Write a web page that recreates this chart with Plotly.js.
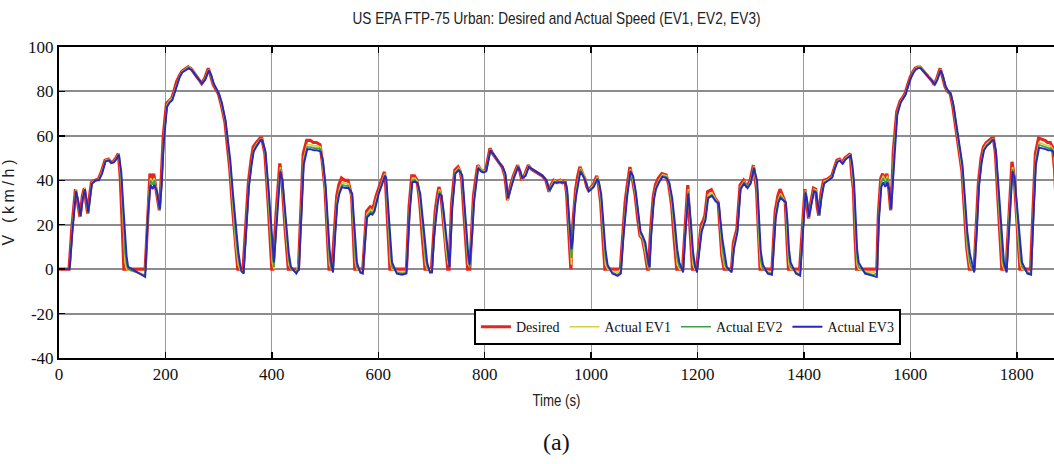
<!DOCTYPE html>
<html>
<head>
<meta charset="utf-8">
<script src="https://cdn.plot.ly/plotly-3.0.1.min.js"></script>
<style>
  html, body { margin: 0; padding: 0; background: #fff; }
  #chart { width: 1054px; height: 464px; }
</style>
</head>
<body>
<div id="chart"></div>
<script>
// FTP-75 drive cycle: reference (desired) speed profile, km/h vs time in s
const tDesired = [
  0, 19, 24, 31, 35, 39.5, 44, 47.6, 51, 54,
  58, 61, 68, 74, 80, 86.5, 93, 98, 102, 107,
  111.5, 115, 118, 122, 162, 167, 171, 175, 178, 183,
  188.6, 192, 196, 202, 207, 212, 216, 221, 226, 230.6,
  236, 243, 249, 254, 259, 264, 268, 274, 280.7, 285,
  290, 299.5, 305, 312, 317, 321, 326, 331, 336, 346,
  351, 356, 361, 365, 371, 378, 381, 387, 393, 400,
  402, 408, 415, 419, 425, 431, 450, 455, 459, 465.5,
  472, 478, 484, 490.6, 495, 500, 504, 507.5, 513, 518,
  522, 526, 531, 537, 543, 550, 553, 556, 571, 575,
  578, 581, 584.6, 588, 592, 596, 600, 606, 611.6, 614,
  618, 622, 653, 658, 663, 668, 673, 678, 683, 688,
  700, 704, 707, 711, 714, 718, 722, 726, 730.6, 733,
  738, 744, 750, 754, 757, 761, 765, 768, 772, 776,
  779, 784, 787, 792, 797, 802, 806, 810, 815, 820,
  826, 833, 838, 843, 848, 854, 862, 866, 870, 876,
  882, 888, 894, 901, 908, 915, 921, 925, 930, 936,
  942, 946, 951, 954, 958, 962, 965, 968, 971, 975,
  979, 984, 988, 992, 995, 1000, 1004, 1010.7, 1014, 1018,
  1022, 1026, 1055, 1060, 1064, 1067, 1073, 1078, 1083, 1088,
  1092, 1096, 1101, 1106, 1108, 1112, 1117, 1121, 1126.5, 1133,
  1141, 1146, 1151.5, 1156, 1161, 1172, 1176, 1181.7, 1186, 1190.6,
  1198, 1203, 1207, 1211, 1214, 1219, 1226, 1233, 1239, 1245.6,
  1250, 1264, 1267.5, 1274, 1280, 1286.6, 1293, 1299, 1305, 1311,
  1315, 1317.7, 1340, 1343, 1346, 1351, 1355, 1360, 1365, 1368,
  1371, 1392, 1397, 1402, 1405, 1408.6, 1413, 1418, 1422, 1425,
  1428, 1432, 1437, 1444, 1452.4, 1457, 1462, 1467, 1472, 1477,
  1482, 1487, 1490, 1493, 1496, 1499, 1537, 1540, 1544.5, 1548,
  1552, 1556, 1560, 1563, 1566, 1568, 1574.5, 1581, 1585, 1590,
  1595, 1600, 1605, 1609, 1614, 1618.4, 1622, 1628, 1634, 1640,
  1645, 1650, 1656, 1660, 1665.4, 1670, 1675, 1680, 1684, 1690,
  1697, 1702, 1706, 1711, 1720, 1724, 1728, 1733, 1737.5, 1743,
  1748, 1753, 1756, 1760, 1765, 1772, 1780, 1785, 1791, 1795,
  1800, 1806, 1826, 1830, 1835, 1841, 1847, 1853, 1858, 1863,
  1867, 1871, 1874
];
const vDesired = [
  0, 0, 18, 36, 30, 23.5, 33, 36.5, 30, 25,
  34, 39, 40, 40.5, 44, 49, 49.5, 48, 48.5, 50,
  52, 42, 25, 0, 0, 28, 43, 40, 43, 35,
  26.5, 40, 60, 74.6, 76, 77, 80, 84.4, 87, 89,
  90, 91, 90, 88, 86.6, 85, 83.6, 86, 90.4, 87,
  83, 79, 74, 66, 56, 45, 28, 12, 0, 0,
  20, 39, 49, 55, 57, 59, 59, 52, 30, 0,
  0, 25, 47.6, 40, 18, 0, 0, 30, 52, 58,
  58, 57, 57, 56, 48, 36, 15, 0, 0, 18,
  33, 38, 41, 40, 40, 33, 18, 0, 0, 18,
  26, 27, 28, 27, 29, 33, 36, 40, 43.8, 38,
  18, 0, 0, 28, 42, 42, 40, 30, 14, 0,
  0, 18, 26, 33, 37, 33, 22, 10, 0, 0,
  30, 44.6, 46, 44, 40, 25, 10, 0, 0, 20,
  33, 42, 46.8, 45, 44, 44.6, 50, 54.4, 52, 50,
  48.3, 46, 42, 31, 37, 42, 46.8, 44, 40, 43,
  46.8, 45, 44, 43, 42, 40, 34.8, 38, 40, 39,
  40, 39, 40, 34, 15, 0, 18, 30, 36, 42,
  46, 43, 41, 37, 35.6, 37, 38, 42, 38, 30,
  14, 0, 0, 18, 30, 36, 46, 40, 33, 22,
  15, 14, 8, 0, 0, 18, 33, 38, 41, 43,
  42.4, 38, 28.5, 14, 0, 0, 18, 37.8, 18, 0,
  0, 12, 20, 22, 24.3, 34.8, 35.7, 32, 30, 6.3,
  0, 0, 12, 18, 37.8, 40, 37, 40, 46.8, 36,
  12, 0, 0, 15, 26, 33, 36, 33, 30, 14,
  0, 0, 20, 36, 30, 22.8, 30, 36.5, 36, 28,
  24, 34, 40, 40.5, 42, 46, 49, 49.5, 48, 50,
  51, 52, 42, 36, 15, 0, 0, 25, 41, 43,
  40, 43, 35, 26.5, 40, 53, 70.9, 75.8, 77, 79,
  83, 86.6, 89, 90.4, 91, 91, 90, 88, 86.6, 85,
  83, 86, 90.4, 87, 82, 80, 79, 73, 66, 57,
  44, 25, 9.7, 0, 0, 20, 39, 50, 55, 57,
  58, 59, 59, 52, 30, 0, 0, 25, 48.3, 42,
  20, 0, 0, 25, 52, 59, 58.5, 58, 57, 57,
  55, 45, 30
];

// Measured speed of the three vehicles, sampled on a common time base
const tActual = [
  0, 20, 25, 32, 36, 40.5, 45, 48.5, 52, 55,
  59, 62, 69, 75, 81, 87.5, 94, 99, 103, 108,
  112.5, 117, 121, 124, 127, 130, 140, 150, 162, 167,
  172, 176, 179, 184, 189.5, 193, 197, 203, 208, 213,
  217, 222, 227, 231.6, 237, 244, 250, 255, 260, 265,
  269, 275, 281.7, 286, 291, 300.5, 306, 313, 318, 322,
  327, 332, 337, 340, 343, 347, 352, 357, 362, 366,
  372, 379, 382, 388, 394, 401, 404, 409, 416, 420,
  426, 432, 436, 446, 451, 456, 460, 466.5, 473, 479,
  485, 491.6, 496, 501, 505, 508.5, 512, 515, 519, 523,
  527, 532, 538, 544, 551, 554, 557, 560, 566, 571,
  576, 579, 582, 585.6, 589, 593, 597, 601, 607, 612.6,
  615, 619, 623, 626, 635, 645, 653, 659, 664, 669,
  674, 679, 684, 689, 692, 697, 701, 705, 708, 712,
  715, 719, 723, 727, 731.6, 734, 739, 745, 751, 755,
  758, 762, 766, 769, 772, 777, 780, 785, 788, 793,
  798, 803, 807, 811, 816, 821, 827, 834, 839, 844,
  849, 855, 863, 867, 871, 877, 883, 889, 895, 902,
  909, 916, 922, 926, 931, 937, 943, 947, 952, 955,
  959, 963, 966, 969, 972, 976, 980, 985, 989, 993,
  996, 1001, 1005, 1011.7, 1015, 1019, 1023, 1027, 1031, 1040,
  1050, 1056, 1061, 1065, 1068, 1074, 1079, 1084, 1089, 1093,
  1097, 1102, 1107, 1110, 1113, 1118, 1122, 1127.5, 1134, 1142,
  1147, 1152.5, 1157, 1162, 1166, 1173, 1177, 1182.7, 1187, 1191.6,
  1195, 1199, 1204, 1208, 1212, 1215, 1220, 1227, 1234, 1240,
  1246.6, 1251, 1255, 1264, 1268.5, 1275, 1281, 1287.6, 1294, 1300,
  1306, 1312, 1316, 1319, 1323, 1332, 1340, 1344, 1347, 1352,
  1356, 1361, 1366, 1369, 1372, 1375, 1385, 1393, 1398, 1403,
  1406, 1409.6, 1414, 1419, 1423, 1426, 1429, 1433, 1438, 1445,
  1453.4, 1458, 1463, 1468, 1473, 1478, 1483, 1488, 1491, 1494,
  1497, 1500, 1503, 1515, 1530, 1537, 1541, 1545.5, 1549, 1553,
  1557, 1561, 1564, 1567, 1569, 1575.5, 1582, 1586, 1591, 1596,
  1601, 1606, 1610, 1615, 1619.4, 1623, 1629, 1635, 1641, 1646,
  1651, 1657, 1661, 1666.4, 1671, 1676, 1681, 1685, 1691, 1698,
  1703, 1707, 1712, 1716, 1720, 1725, 1729, 1734, 1738.5, 1744,
  1749, 1754, 1757, 1761, 1766, 1773, 1776, 1781, 1786, 1792,
  1796, 1801, 1807, 1810, 1820, 1827, 1831, 1836, 1842, 1848,
  1854, 1859, 1864, 1868, 1872, 1874
];
const vEV1 = [
  0, 0, 18, 36, 30, 23.5, 33, 36.5, 30, 25,
  34, 39, 40, 40.5, 44, 49, 49.5, 48, 48.5, 50,
  52, 40, 20, 3, 0, -0.5, -1, -1.5, -2.5, 26,
  41, 39, 41, 34, 26.5, 40, 59, 74, 76, 77,
  80, 84, 87, 89, 90, 91, 90, 88, 86.6, 85,
  83.6, 86, 90, 87, 83, 79, 74, 66, 56, 45,
  28, 12, 2, 0, -0.5, -1, 19, 38, 48, 54,
  56.5, 58.5, 58.5, 52, 30, 3, 0, 24, 46, 39,
  18, 2, 0, -1, 3, 29, 50, 56, 56, 55.5,
  55.5, 55, 47, 34, 14, 2, 0, -0.5, 17, 31,
  36, 39, 38.5, 38.5, 32, 18, 3, 0, -0.5, -1,
  17, 25, 26, 27, 26, 28, 32, 35, 39, 43,
  39, 20, 3, 0, -1, -1.5, -1, 27, 41, 41,
  39.5, 30, 14, 2, 0, -0.5, 0, 17, 25, 32,
  36, 33, 22, 10, 2, 3, 29, 44, 45.5, 44,
  40, 25, 10, 2, 1, 19, 32, 41, 46.5, 45,
  44, 44.5, 49.5, 54, 52, 50, 48.3, 46, 42, 31,
  37, 42, 46.5, 44, 40, 43, 46.5, 45, 44, 43,
  42, 40, 35, 38, 40, 39, 40, 39, 40, 34,
  15, 2, 17, 29, 35, 41, 45.5, 43, 41, 37,
  35.6, 37, 38, 41.5, 38, 30, 14, 2, 0, -1,
  -1.5, 0, 17, 29, 35, 45, 40, 33, 22, 15,
  14, 8, 1, 0, 17, 32, 37, 40, 42.5, 42,
  38, 28.5, 14, 2, 0, -0.5, 17, 36, 19, 2,
  0, -0.5, 11, 19, 21, 24, 33.5, 34.5, 31.5, 29.5,
  7, 1, 0, -0.5, 11, 17.5, 37, 39.5, 37, 39.5,
  46.5, 36, 12, 1, 0, -1, -1.5, 13, 25, 31.5,
  34, 32, 29, 14, 2, 0, -1, -1.5, 19, 35.5,
  30, 23, 30, 36, 35.5, 28, 24, 33, 39.5, 40.3,
  41.8, 45.8, 48.8, 49.3, 48, 49.8, 50.8, 51.8, 43, 36,
  16, 2, 0, -1, -1.5, -1, 24, 40, 42, 39.5,
  42, 35, 26.5, 40, 52, 70.5, 75.5, 77, 79, 83,
  86.5, 89, 90.3, 91, 91, 90, 88, 86.6, 85, 83,
  86, 90, 87, 82, 80, 79, 73, 66, 57, 44,
  25, 9.7, 1, 0, -0.5, 19, 38, 49, 54.5, 56.5,
  57.5, 58.5, 58.5, 52, 30, 2, 0, -0.5, 24, 46,
  41, 20, 2, 0, -1, -1.5, 24, 50, 57, 56.5,
  56, 55.5, 55.5, 54, 46, 35
];
const vEV2 = [
  0, 0, 17, 35.5, 30.5, 23.5, 32.5, 36, 30.5, 25,
  33.5, 38.5, 40, 40.3, 43.5, 48.7, 49.2, 48, 48.3, 49.8,
  51.7, 42, 24, 8, 2, 0, -1, -2, -3, 25,
  40, 38, 40, 35, 26.5, 39, 58, 73.5, 75.5, 76.5,
  79.5, 83.8, 86.7, 88.8, 89.8, 90.8, 89.8, 88, 86.5, 85,
  83.5, 85.7, 89.8, 87, 83, 79, 74.5, 66.5, 57, 47,
  31, 15, 5, 1, -1, -1.5, 18, 37.5, 47.5, 53.5,
  56, 58.2, 58.2, 52.5, 33, 6, 1, 22, 45, 39.5,
  21, 4, 0, -1.5, 2, 28, 49, 55, 55, 54.5,
  54.5, 54, 48, 36, 18, 5, 0, -1, 16, 30,
  35, 38, 37.5, 37.5, 33, 21, 6, 1, -1, -1.5,
  16, 24, 25, 26, 25, 27, 31, 34.5, 38.5, 42.5,
  40, 24, 7, 1, -1.5, -2, -1.5, 26, 40, 40,
  39, 32, 18, 5, 1, -1, -0.5, 16, 24, 31,
  35, 33, 24, 13, 4, 2, 28, 43.5, 45, 44,
  41, 28, 13, 4, 1, 18, 31, 40.5, 46, 44.5,
  43.8, 44.2, 49, 53.8, 52, 50, 48.2, 46, 42.5, 31.5,
  36.5, 41.5, 46.3, 44, 40.5, 42.5, 46.3, 45, 44, 43,
  42, 40, 35, 37.5, 39.5, 39, 39.5, 39, 39.5, 35,
  19, 5, 15, 28, 34, 40, 45, 42.5, 40.5, 37,
  35.6, 36.5, 37.5, 41, 38.5, 32, 18, 5, 1, -1.5,
  -2.5, -1, 16, 28, 34, 44.5, 41, 34, 24, 16,
  14.5, 10, 2, 0, 16, 31.5, 36.5, 39.5, 42, 41.5,
  38.5, 30, 18, 5, 1, -1, 16, 35, 21, 5,
  1, -1, 10, 18, 20.5, 23, 32.5, 33.5, 31, 29.5,
  10, 3, 0, -1, 10, 17, 36.5, 39, 37, 39,
  46, 38, 17, 4, 0, -1.5, -2, 12, 24, 31,
  33, 31.5, 29.5, 18, 5, 1, -1.5, -2.5, 18, 35,
  30.5, 23, 29.5, 35.5, 35, 28.5, 24, 32.5, 39, 40,
  41.5, 45.5, 48.5, 49, 47.8, 49.5, 50.5, 51.5, 45, 38,
  20, 5, 1, -1.5, -2.5, -2, 23, 39, 41, 38.5,
  41, 35, 26.5, 39, 51, 70, 75.2, 76.7, 78.8, 82.7,
  86.3, 88.7, 90, 90.8, 90.8, 89.8, 88, 86.5, 85, 83,
  85.7, 89.8, 87, 82, 80, 79, 73.5, 67, 58, 45.5,
  28, 13, 3, 0, -1, 18, 37.5, 48.5, 54, 56,
  57, 58.2, 58.2, 52.5, 33, 5, 1, -1, 23, 45,
  41, 23, 5, 1, -1.5, -2, 23, 49, 56, 55.5,
  55, 54.5, 54.5, 53.5, 48, 38
];
const vEV3 = [
  0, 0, 16, 35, 31, 24, 32, 36, 31, 25.5,
  33, 38.5, 40, 40, 43, 48.5, 49, 47.8, 48, 49.5,
  51.5, 44, 28, 14, 6, 1, -0.5, -2, -3.5, 24,
  38, 36, 38, 35, 27, 38, 57, 73, 75, 76,
  79, 83.5, 86.5, 88.5, 89.5, 90.5, 89.5, 88, 86.3, 85,
  83.5, 85.3, 89.5, 87.5, 83.5, 79, 75, 67, 58, 49,
  34, 19, 8, 3, -1, -2, 17, 37, 47, 53,
  55.5, 58, 58, 53, 36, 10, 3, 20, 44, 40,
  24, 7, 1, -2, 0, 27, 47, 54, 54, 53.5,
  53.5, 53, 49, 38, 22, 9, 2, -1.5, 15, 29,
  34, 37, 36.5, 36.5, 34, 24, 10, 3, -1.5, -2,
  15, 23.4, 24, 25, 24.5, 26, 30, 34, 38, 42,
  41, 28, 12, 3, -2, -2.5, -2, 25, 39, 39.5,
  38.5, 34, 22, 9, 3, -1.5, -1.5, 15, 23, 30,
  34, 33, 26, 16, 7, 1, 27, 43, 44.5, 43.5,
  42, 31, 17, 7, 2, 17, 30, 40, 45.5, 44,
  43.5, 44, 48.5, 53.5, 52, 50, 48, 46, 43, 32,
  36, 41, 46, 44, 41, 42, 46, 45, 44, 43,
  42, 40, 35.5, 37, 39, 39, 39, 39, 39, 36,
  23, 9, 14, 27, 33, 39, 44, 42, 40, 37,
  35, 36, 37, 40.5, 39, 34, 22, 9, 2, -2,
  -3, -2, 15, 27, 33, 44, 42, 35, 26, 17,
  15, 12, 4, 1, 15, 31, 36, 39, 41.5, 41,
  39, 32, 22, 9, 3, -1.5, 15, 34, 23, 8,
  2, -1.5, 9, 17, 20, 22, 32, 33, 30.5, 29.5,
  14, 6, 1, -1.5, 9, 16.5, 36, 38.5, 36.5, 38.5,
  45.5, 40, 22, 8, 2, -2, -2.5, 10, 23, 30,
  32, 31, 30, 22, 9, 3, -2, -3, 17, 34.5,
  31, 23.5, 29, 35, 34.5, 29, 24.5, 32, 38.5, 39.8,
  41.3, 45.2, 48.3, 48.8, 47.5, 49.3, 50.3, 51.2, 47, 40,
  25, 9, 3, -2, -3, -3.5, 22, 37, 39, 37,
  39, 35, 27, 38, 50, 69.5, 75, 76.4, 78.5, 82.4,
  86, 88.4, 89.8, 90.5, 90.5, 89.6, 87.8, 86.3, 84.8, 83,
  85.3, 89.5, 87.3, 82.3, 80.3, 79, 74, 68, 59, 47,
  31, 17, 7, 2, -1.5, 17, 37, 48, 53.5, 55.5,
  56.5, 58, 58, 53, 36, 9, 3, -1.5, 21, 44,
  41, 26, 8, 3, -2, -2.5, 22, 47, 54.7, 54.5,
  54, 53.5, 53.5, 53, 50, 42
];

const seriesNames = ['Desired', 'Actual EV1', 'Actual EV2', 'Actual EV3'];
const seriesColors = ['#e8251c', '#d9cf3a', '#3f9e46', '#2828c0'];
const seriesWidths = [3.2, 1.6, 1.6, 1.9];

const xTickVals = [0, 200, 400, 600, 800, 1000, 1200, 1400, 1600, 1800];
const xTickText = ['0', '200', '400', '600', '800', '1000', '1200', '1400', '1600', '1800'];
const yTickVals = [-40, -20, 0, 20, 40, 60, 80, 100];
const yTickText = ['-40', '-20', '0', '20', '40', '60', '80', '100'];

const ySeries = [vDesired, vEV1, vEV2, vEV3];
const xSeries = [tDesired, tActual, tActual, tActual];

const traces = ySeries.map((y, i) => ({
  type: 'scatter',
  mode: 'lines',
  name: seriesNames[i],
  x: xSeries[i],
  y: y,
  line: { color: seriesColors[i], width: seriesWidths[i] },
  hoverinfo: 'skip'
}));

const serif = '"Liberation Serif", "Times New Roman", serif';
const sans = '"Liberation Sans", Arial, sans-serif';

const layout = {
  width: 1054,
  height: 464,
  autosize: false,
  paper_bgcolor: '#ffffff',
  plot_bgcolor: '#ffffff',
  margin: { l: 59, r: 0, t: 47, b: 106, pad: 0 },
  title: {
    text: 'US EPA FTP-75 Urban: Desired and Actual Speed (EV1, EV2, EV3)',
    font: { family: sans, size: 17, color: '#222' },
    x: 0.5, xref: 'paper', xanchor: 'center',
    y: 0.962, yref: 'container', yanchor: 'middle'
  },
  xaxis: {
    range: [0, 1870],
    tickvals: xTickVals,
    ticktext: xTickText,
    ticks: 'inside', ticklen: 6, tickwidth: 1.5, tickcolor: '#000',
    showline: true, linecolor: '#000', linewidth: 2, mirror: 'ticks',
    showgrid: true, gridcolor: '#9a9a9a', gridwidth: 1,
    zeroline: false,
    tickfont: { family: serif, size: 17, color: '#111' },
    title: { text: 'Time (s)', font: { family: sans, size: 17, color: '#222' }, standoff: 11 }
  },
  yaxis: {
    range: [-40, 100],
    tickvals: yTickVals,
    ticktext: yTickText,
    ticks: 'inside', ticklen: 6, tickwidth: 1.5, tickcolor: '#000',
    showline: true, linecolor: '#000', linewidth: 2, mirror: false,
    showgrid: true, gridcolor: '#8c8c8c', gridwidth: 2,
    zeroline: false,
    tickfont: { family: serif, size: 17, color: '#111' },
    title: { text: 'V (km/h)', font: { family: sans, size: 16, color: '#222' }, standoff: 9 }
  },
  showlegend: true,
  legend: {
    orientation: 'h',
    x: 0.417, xanchor: 'left',
    y: 0.157, yanchor: 'top',
    bgcolor: '#ffffff',
    bordercolor: '#000', borderwidth: 2,
    font: { family: serif, size: 14, color: '#111' },
    traceorder: 'normal'
  },
  annotations: [{
    text: '(a)',
    xref: 'paper', yref: 'paper',
    x: 0.5, y: -0.27, xanchor: 'center', yanchor: 'middle',
    showarrow: false,
    font: { family: serif, size: 24, color: '#111' }
  }]
};

// Condensed title lettering: squeeze each label to its set width
function condense(selector, width, adjust) {
  const el = document.querySelector(selector);
  if (!el) return;
  el.setAttribute('textLength', width);
  el.setAttribute('lengthAdjust', adjust);
}

Plotly.newPlot('chart', traces, layout, { displayModeBar: false, staticPlot: true }).then(() => {
  condense('#chart .gtitle', 408, 'spacingAndGlyphs');
  condense('#chart .g-xtitle text', 48, 'spacingAndGlyphs');
  condense('#chart .g-ytitle text', 86, 'spacing');
});
</script>
</body>
</html>
